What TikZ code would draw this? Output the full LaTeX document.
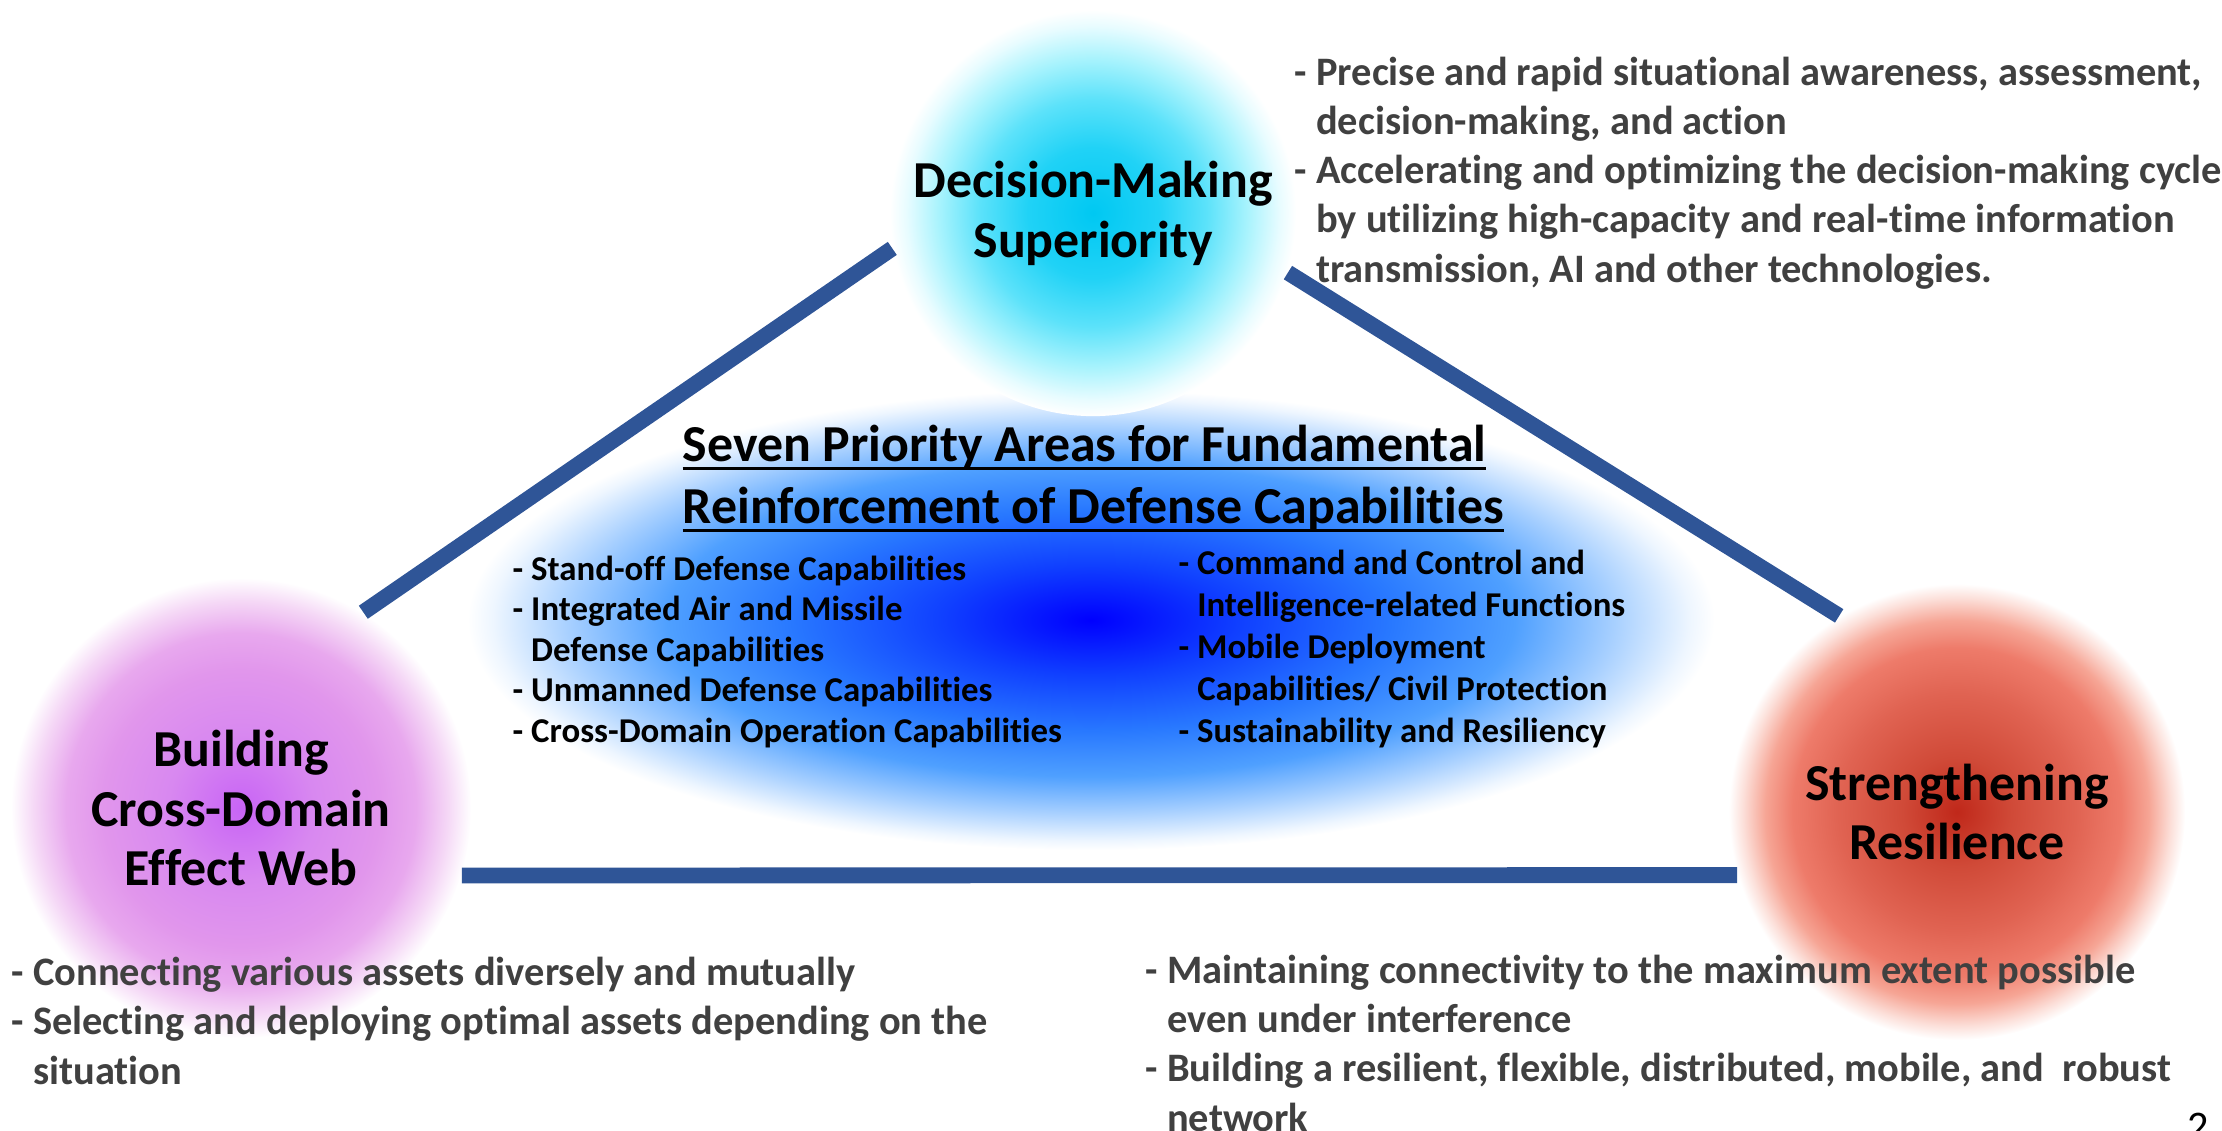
\documentclass[tikz,border=0pt]{standalone}
\usepackage{fontspec}
\setmainfont{Carlito}[Ligatures=NoCommon]
\usetikzlibrary{shapes.geometric}

\definecolor{barblue}{HTML}{2F5597}
\definecolor{notegray}{HTML}{404040}
\definecolor{dmA}{HTML}{00C8F2}
\definecolor{dmB}{HTML}{20D2F6}
\definecolor{dmC}{HTML}{5CE2FA}
\definecolor{dmD}{HTML}{A8F3FD}
\definecolor{dmE}{HTML}{E8FCFF}
\definecolor{cdA}{HTML}{C864F5}
\definecolor{cdB}{HTML}{D888F0}
\definecolor{cdC}{HTML}{E196EC}
\definecolor{cdD}{HTML}{E8A8EE}
\definecolor{cdE}{HTML}{F5D8F6}
\definecolor{srA}{HTML}{C0281A}
\definecolor{srB}{HTML}{D04A38}
\definecolor{srC}{HTML}{E06352}
\definecolor{srD}{HTML}{EE7B6A}
\definecolor{srE}{HTML}{F6A595}
\definecolor{srF}{HTML}{FCE0DA}
\definecolor{coreA}{HTML}{0000FF}
\definecolor{coreB}{HTML}{1040FF}
\definecolor{coreC}{HTML}{2878FF}
\definecolor{coreD}{HTML}{4FA0FF}
\definecolor{coreE}{HTML}{A8D0FF}
\definecolor{coreF}{HTML}{EEF6FF}

\pgfdeclareradialshading{dmglow}{\pgfpoint{0bp}{0bp}}{color(0bp)=(dmA); color(8bp)=(dmB); color(14bp)=(dmC); color(19bp)=(dmD); color(23bp)=(dmE); color(25bp)=(white); color(50bp)=(white)}
\pgfdeclareradialshading{cdglow}{\pgfpoint{0bp}{0bp}}{color(0bp)=(cdA); color(8bp)=(cdB); color(15bp)=(cdC); color(19bp)=(cdD); color(22.5bp)=(cdE); color(25bp)=(white); color(50bp)=(white)}
\pgfdeclareradialshading{srglow}{\pgfpoint{0bp}{0bp}}{color(0bp)=(srA); color(6bp)=(srB); color(13bp)=(srC); color(18bp)=(srD); color(21bp)=(srE); color(23.5bp)=(srF); color(25bp)=(white); color(50bp)=(white)}
\pgfdeclareradialshading{coreglow}{\pgfpoint{0bp}{0bp}}{color(0bp)=(coreA); color(6bp)=(coreB); color(12bp)=(coreC); color(17bp)=(coreD); color(21bp)=(coreE); color(24bp)=(coreF); color(25bp)=(white); color(50bp)=(white)}

\newcommand{\cont}{\hphantom{-\ }}
\newcommand{\uln}[1]{\setbox0\hbox{#1}\rlap{\vrule height -1.6pt depth 2.45pt width \wd0}\box0}

\tikzset{
  glow/.style={circle, inner sep=0pt, align=center, shade,
    font=\fontsize{14.75pt}{17pt}\selectfont\bfseries},
  bar/.style={draw=barblue, line width=4.5pt},
  note/.style={anchor=base west, align=left, inner sep=0pt, text=notegray,
    font=\fontsize{11.5pt}{13.95pt}\selectfont\bfseries},
  area/.style={anchor=base west, align=left, inner sep=0pt,
    font=\fontsize{9.9pt}{11.5pt}\selectfont\bfseries}
}

\begin{document}
\begin{tikzpicture}[x=0.01cm, y=-0.01cm]
  \useasboundingbox (0,0) rectangle (2222,1130);

  % Central ellipse
  \node[ellipse, shade, shading=coreglow, minimum width=12.46cm,
    minimum height=4.6cm] (core) at (1091,620) {};

  % Three corner circles
  \node[glow, shading=dmglow, minimum size=4.06cm] (dm) at (1093,213)
    {Decision-Making\\Superiority};
  \node[glow, shading=cdglow, minimum size=4.6cm] (cd) at (241,808)
    {Building\\Cross-Domain\\Effect Web};
  \node[glow, shading=srglow, minimum size=4.56cm] (sr) at (1957,812)
    {Strengthening\\Resilience};

  % Triangle sides
  \draw[bar] (dm.190) -- (cd.58);
  \draw[bar] (dm.-17) -- (sr.121);
  \draw[bar] (cd.-17) -- (sr.196);

  % Title and priority areas (anchored at the last baseline)
  \node[area, font=\fontsize{14.75pt}{17.4pt}\selectfont\bfseries] (title)
    at (682,523)
    {\uln{Seven Priority Areas for Fundamental}\\
     \uln{Reinforcement of Defense Capabilities}};
  \node[area] (leftareas) at (512,742)
    {- Stand-off Defense Capabilities\\
     - Integrated Air and Missile\\
     \cont Defense Capabilities\\
     - Unmanned Defense Capabilities\\
     - Cross-Domain Operation Capabilities};
  \node[area, font=\fontsize{9.9pt}{11.9pt}\selectfont\bfseries] (rightareas)
    at (1178,742)
    {- Command and Control and\\
     \cont Intelligence-related Functions\\
     - Mobile Deployment\\
     \cont Capabilities/ Civil Protection\\
     - Sustainability and Resiliency};

  % Notes beside the circles
  \node[note] (dmnote) at (1294,282)
    {- Precise and rapid situational awareness, assessment,\\
     \cont decision-making, and action\\
     - Accelerating and optimizing the decision-making cycle\\
     \cont by utilizing high-capacity and real-time information\\
     \cont transmission, AI and other technologies.};
  \node[note] (cdnote) at (11,1084)
    {- Connecting various assets diversely and mutually\\
     - Selecting and deploying optimal assets depending on the\\
     \cont situation};
  \node[note] (srnote) at (1145,1131)
    {- Maintaining connectivity to the maximum extent possible\\
     \cont even under interference\\
     - Building a resilient, flexible, distributed, mobile, and\ \ robust\\
     \cont network};

  % Page number
  \node[anchor=base, inner sep=0pt, font=\fontsize{12pt}{14pt}\selectfont]
    (page) at (2198,1140) {2};
\end{tikzpicture}
\end{document}
